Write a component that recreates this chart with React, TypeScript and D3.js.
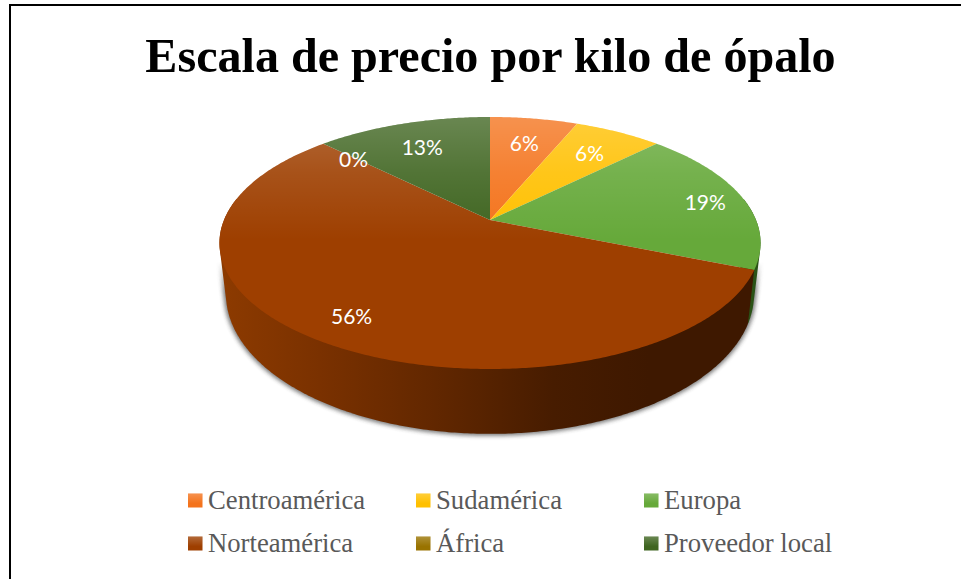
import React from "react";
import * as d3 from "d3";

const categories = ["Centroamérica", "Sudamérica", "Europa", "Norteamérica", "África", "Proveedor local"];
const values = [1, 1, 3, 9, 0, 2];
const percentLabels = ["6%", "6%", "19%", "56%", "0%", "13%"];
const colors = ["#f4731c", "#ffc000", "#66a93a", "#9e3f00", "#997300", "#3f6520"];
const wallDark = ["#7a3a10", "#806000", "#2a5216", "#3e1800", "#604800", "#2a4015"];
const labelRadius = [0.75, 0.75, 0.85, 0.82, 0.8, 0.75];
const titleText = "Escala de precio por kilo de ópalo";

const W = 961, H = 579;
const apex = { x: 490, y: 220 };
const S = 266, T = 121.8, K = 0.1826;
const wallDepth = { scaleX: 0.976, scaleY: 1.11, topCy: 243, botCy: 294 };

type P = { x: number; y: number };

function project(theta: number, r = 1): P {
  const u = Math.sin(theta) * r, v = Math.cos(theta) * r;
  const w = 1 + K * v;
  return { x: apex.x + (S * u) / w, y: apex.y - (T * v) / w };
}
function toBottom(p: P): P {
  return {
    x: apex.x + (p.x - apex.x) * wallDepth.scaleX,
    y: wallDepth.botCy + (p.y - wallDepth.topCy) * wallDepth.scaleY,
  };
}

const pie = d3.pie<number>().sort(null).startAngle(0).endAngle(2 * Math.PI);
const arcs = pie(values);
const line = d3.line<P>().x((d) => d.x).y((d) => d.y);

function samples(a0: number, a1: number) {
  const n = Math.max(2, Math.ceil((a1 - a0) / 0.01));
  return d3.range(n + 1).map((i) => a0 + ((a1 - a0) * i) / n);
}
function slicePath(a0: number, a1: number) {
  return line([apex, ...samples(a0, a1).map((t) => project(t))]) + "Z";
}
function hullPath(a0: number, a1: number) {
  const top = samples(a0, a1).map((t) => project(t));
  const pts = [...top, ...top.map(toBottom)].map((p) => [p.x, p.y] as [number, number]);
  const hull = d3.polygonHull(pts)!;
  return line(hull.map(([x, y]) => ({ x, y }))) + "Z";
}

const colX = d3.scalePoint<number>().domain([0, 1, 2]).range([188, 644]);
const rowY = d3.scalePoint<number>().domain([0, 1]).range([500.5, 543.5]);

export default function App() {
  return (
    <svg width={W} height={H} style={{ position: "absolute", left: 0, top: 0, display: "block" }}>
      <defs>
        <filter id="sh" x="-10%" y="-10%" width="120%" height="130%">
          <feGaussianBlur stdDeviation="2.2" />
        </filter>
        <linearGradient id="shFade" gradientUnits="userSpaceOnUse" x1="0" x2="0" y1="262" y2="292">
          <stop offset="0" stopColor="#000" />
          <stop offset="1" stopColor="#fff" />
        </linearGradient>
        <mask id="shMask" maskUnits="userSpaceOnUse" x={0} y={0} width={W} height={H}>
          <rect x={0} y={0} width={W} height={H} fill="url(#shFade)" />
        </mask>
        <linearGradient id="wallGrad" gradientUnits="userSpaceOnUse" x1="224" x2="755" y1="0" y2="0">
          <stop offset="0" stopColor="#8c3a00" />
          <stop offset="0.18" stopColor="#7a3100" />
          <stop offset="0.42" stopColor="#5f2600" />
          <stop offset="0.62" stopColor="#471c00" />
          <stop offset="0.8" stopColor="#3e1800" />
          <stop offset="1" stopColor="#3e1800" />
        </linearGradient>
        <linearGradient id="sheen" gradientUnits="userSpaceOnUse" x1="0" x2="0" y1="117" y2="240">
          <stop offset="0" stopColor="#fff" stopOpacity="0.22" />
          <stop offset="0.45" stopColor="#fff" stopOpacity="0.1" />
          <stop offset="1" stopColor="#fff" stopOpacity="0" />
        </linearGradient>
        <linearGradient id="swatchSheen" x1="0" x2="0" y1="0" y2="1">
          <stop offset="0" stopColor="#fff" stopOpacity="0.22" />
          <stop offset="0.7" stopColor="#fff" stopOpacity="0" />
        </linearGradient>
      </defs>
      <rect x={0} y={0} width={W} height={H} fill="#fff" />
      <path d={`M10 ${H}V5H${W}`} fill="none" stroke="#000" strokeWidth={2} />
      <text x={490.5} y={71.5} textAnchor="middle" fontFamily="'Liberation Serif'" fontWeight="bold" fontSize={48.1} fill="#000">
        {titleText}
      </text>

      <g mask="url(#shMask)">
        <path d={hullPath(0, 2 * Math.PI)} fill="#333" stroke="#333" strokeWidth={4} opacity={0.65} filter="url(#sh)" />
      </g>
      {arcs.map((a, i) => {
        const lo = Math.max(a.startAngle, Math.PI / 2 - 0.18);
        const hi = Math.min(a.endAngle, 1.5 * Math.PI + 0.18);
        if (hi <= lo || a.value === 0) return null;
        return <path key={i} d={hullPath(lo, hi)} fill={i === 3 ? "url(#wallGrad)" : wallDark[i]} />;
      })}
      {arcs.map((a, i) =>
        a.value === 0 ? null : <path key={i} d={slicePath(a.startAngle, a.endAngle)} fill={colors[i]} />
      )}
      {arcs.map((a, i) =>
        a.value === 0 ? null : <path key={i} d={slicePath(a.startAngle, a.endAngle)} fill="url(#sheen)" />
      )}
      {arcs.map((a, i) => {
        const p = project((a.startAngle + a.endAngle) / 2, labelRadius[i]);
        return (
          <text key={i} x={p.x} y={p.y + 1} textAnchor="middle" dominantBaseline="central" fontFamily="Lato" fontSize={21} fill="#fff">
            {percentLabels[i]}
          </text>
        );
      })}
      {categories.map((c, i) => {
        const x = colX(i % 3)!;
        const y = rowY(Math.floor(i / 3))!;
        return (
          <g key={c}>
            <rect x={x} y={y - 7} width={14.5} height={14} fill={colors[i]} />
            <rect x={x} y={y - 7} width={14.5} height={14} fill="url(#swatchSheen)" />
            <text x={x + 20} y={y + 8.5} fontFamily="'Liberation Serif'" fontSize={26.7} fill="#595959">
              {c}
            </text>
          </g>
        );
      })}
    </svg>
  );
}
